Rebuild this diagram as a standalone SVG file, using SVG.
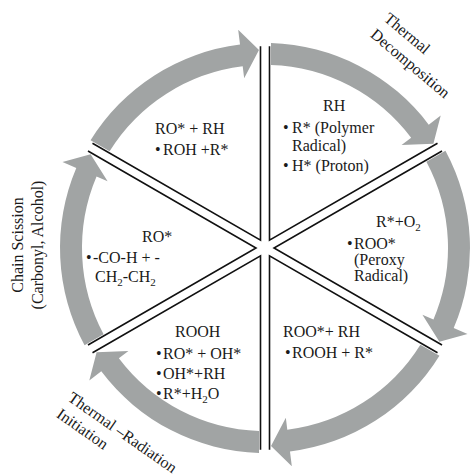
<svg xmlns="http://www.w3.org/2000/svg" width="473" height="475" viewBox="0 0 473 475">
<style>
text{font-family:"Liberation Serif","Times New Roman",serif;font-size:16px;fill:#1a1a1a}
.edge{fill:none;stroke:#111;stroke-width:1.6;stroke-linejoin:miter}
.arc{fill:#a1a4a4;stroke:none}
</style>
<defs>
<path id="wedge" class="edge" d="M269.5,46.2 L269.5,240.2 L437.5,143.2"/>
<path id="arrow" class="arc" d="M271,43.1 A205,205 0 0 1 428.72,124.63 L440.7,115.6 L433.39,143.84 L401.57,145.09 L411.15,137.87 A183,183 0 0 0 271,65.1 Z"/>
</defs>
<rect width="473" height="475" fill="#fff"/>
<g id="connectors">
<use href="#arrow"/>
<use href="#arrow" transform="rotate(60 265 248)"/>
<use href="#arrow" transform="rotate(120 265 248)"/>
<use href="#arrow" transform="rotate(180 265 248)"/>
<use href="#arrow" transform="rotate(240 265 248)"/>
<use href="#arrow" transform="rotate(300 265 248)"/>
</g>
<g id="node-rh">
<use href="#wedge"/>
<text x="323" y="111">RH</text>
<text y="133"><tspan x="283">•</tspan><tspan x="292">R* (Polymer</tspan></text>
<text x="292" y="151">Radical)</text>
<text y="171"><tspan x="283">•</tspan><tspan x="292">H* (Proton)</tspan></text>
</g>
<g id="node-ro2">
<use href="#wedge" transform="rotate(60 265 248)"/>
<text x="376" y="227">R*+O<tspan dy="4" font-size="11">2</tspan></text>
<text y="249"><tspan x="347">•</tspan><tspan x="354">ROO*</tspan></text>
<text x="354" y="265">(Peroxy</text>
<text x="354" y="281">Radical)</text>
</g>
<g id="node-roorh">
<use href="#wedge" transform="rotate(120 265 248)"/>
<text x="283" y="337">ROO*+ RH</text>
<text y="358"><tspan x="285">•</tspan><tspan x="292">ROOH + R*</tspan></text>
</g>
<g id="node-rooh">
<use href="#wedge" transform="rotate(180 265 248)"/>
<text x="175" y="337">ROOH</text>
<text y="359"><tspan x="156">•</tspan><tspan x="163">RO* + OH*</tspan></text>
<text y="379"><tspan x="156">•</tspan><tspan x="163">OH*+RH</tspan></text>
<text y="399"><tspan x="156">•</tspan><tspan x="163">R*+H<tspan dy="4" font-size="11">2</tspan><tspan dy="-4">O</tspan></tspan></text>
</g>
<g id="node-ro">
<use href="#wedge" transform="rotate(240 265 248)"/>
<text x="142" y="242">RO*</text>
<text y="263"><tspan x="86">•</tspan><tspan x="93">-CO-H + -</tspan></text>
<text x="95" y="282">CH<tspan dy="4" font-size="11">2</tspan><tspan dy="-4">-CH</tspan><tspan dy="4" font-size="11">2</tspan></text>
</g>
<g id="node-rorh">
<use href="#wedge" transform="rotate(300 265 248)"/>
<text x="155" y="134">RO* + RH</text>
<text y="155"><tspan x="155">•</tspan><tspan x="163">ROH +R*</tspan></text>
</g>
<g id="label-thermal-decomposition" transform="translate(383 20) rotate(40)">
<text x="0" y="0">Thermal</text>
<text x="0" y="21">Decomposition</text>
</g>
<g id="label-chain-scission" transform="translate(23 245) rotate(-90)">
<text x="0" y="0" text-anchor="middle">Chain Scission</text>
<text x="0" y="20" text-anchor="middle">(Carbonyl, Alcohol)</text>
</g>
<g id="label-thermal-radiation" transform="translate(67 400) rotate(35)">
<text x="0" y="0">Thermal –Radiation</text>
<text x="0" y="20">Initiation</text>
</g>
</svg>
